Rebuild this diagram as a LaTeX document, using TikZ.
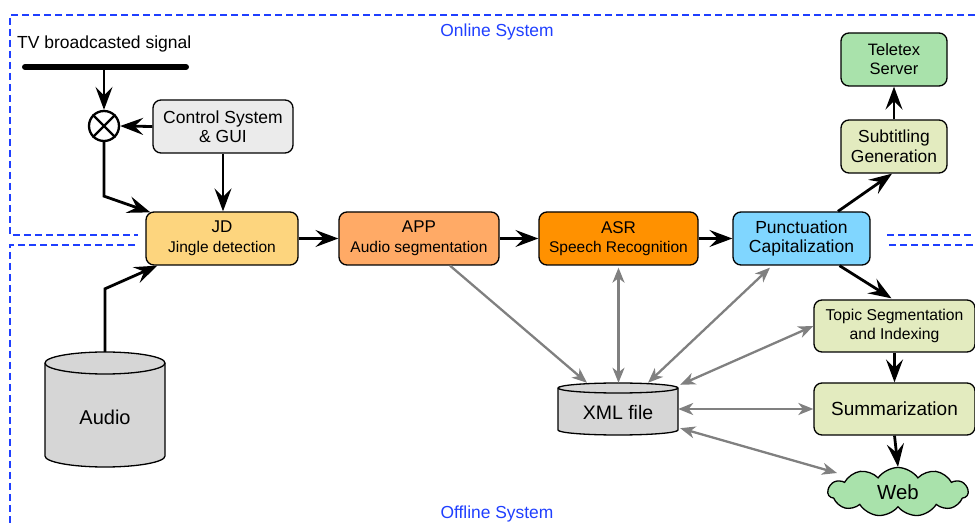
\documentclass[tikz,border=0pt]{standalone}
\usepackage{fontspec}
\setmainfont{Liberation Sans}
\usetikzlibrary{arrows.meta,shapes.symbols,calc}
\definecolor{jdcol}{HTML}{FDD57E}
\definecolor{appcol}{HTML}{FFAA66}
\definecolor{asrcol}{HTML}{FF9100}
\definecolor{puncol}{HTML}{80D6FF}
\definecolor{olivecol}{HTML}{E3EBBF}
\definecolor{greencol}{HTML}{A9E2AB}
\definecolor{ctrlcol}{HTML}{EBEBEB}
\definecolor{cylcol}{HTML}{D6D6D6}
\definecolor{arrgray}{HTML}{808080}
\definecolor{dashblue}{HTML}{1F3FFF}
\newcommand\myfs[2]{\fontsize{#1}{#2}\selectfont}
\begin{document}
\begin{tikzpicture}[x=1pt,y=-1pt,
  boxnode/.style={draw=black, line width=1.3pt, rounded corners=8pt, align=center, inner sep=0pt},
  blk/.style={draw=black, line width=2.8pt, -{Stealth[length=23pt,width=17pt,inset=8.5pt]}},
  gry/.style={draw=arrgray, line width=2.3pt, -{Stealth[length=15pt,width=12pt,inset=4.5pt]}},
  gry2/.style={draw=arrgray, line width=2.3pt, {Stealth[length=15pt,width=12pt,inset=4.5pt]}-{Stealth[length=15pt,width=12pt,inset=4.5pt]}},
  dashline/.style={draw=dashblue, line width=1.3pt, dash pattern=on 7pt off 4pt},
  bluetext/.style={text=dashblue, font=\myfs{17.4}{20}, inner sep=0pt},
  cylfill/.style={draw=black, line width=1.3pt, fill=cylcol},
]
\useasboundingbox (0,0) rectangle (975,526);

% system boundaries
\draw[dashline] (975,15) -- (10,15) -- (10,235) -- (138,235);
\draw[dashline] (887,235) -- (975,235);
\draw[dashline] (135,245) -- (10,245) -- (10,526);
\draw[dashline] (889,245) -- (975,245);
\node[bluetext] (online) at (497,32) {Online System};
\node[bluetext] (offline) at (497,514) {Offline System};

% TV signal
\node[anchor=west, inner sep=0pt, font=\myfs{17.5}{20}] (tvlabel) at (17,44) {TV broadcasted signal};
\draw[line width=6pt, line cap=round] (25,67) -- (186,67);
\coordinate (tap) at (104,67);

% mixer
\node[circle, draw, line width=2.3pt, minimum size=30pt, inner sep=0pt, fill=white] (mix) at (104,126) {};
\draw[line width=2.3pt] (mix.north west) -- (mix.south east) (mix.north east) -- (mix.south west);

% boxes
\node[boxnode, fill=ctrlcol, minimum width=140pt, minimum height=53pt, font=\myfs{17.5}{19.5}] (ctrl) at (223,126.5) {Control System\\\& GUI};
\node[boxnode, fill=jdcol, minimum width=152pt, minimum height=53pt, font=\myfs{17}{19.5}] (jd) at (222,238.5) {JD\\\myfs{15.5}{19.5}Jingle detection};
\node[boxnode, fill=appcol, minimum width=160pt, minimum height=53pt, font=\myfs{17}{19.5}] (app) at (419,238.5) {APP\\\myfs{15.5}{19.5}Audio segmentation};
\node[boxnode, fill=asrcol, minimum width=159pt, minimum height=53pt, font=\myfs{17}{19.5}] (asr) at (618.5,238.5) {ASR\\\myfs{15.5}{19.5}Speech Recognition};
\node[boxnode, fill=puncol, minimum width=137pt, minimum height=53pt, font=\myfs{17.5}{19.5}] (punct) at (801.5,238.5) {Punctuation\\Capitalization};
\node[boxnode, fill=olivecol, minimum width=106pt, minimum height=53pt, font=\myfs{17.4}{19.5}] (subt) at (894,146.5) {Subtitling\\Generation};
\node[boxnode, fill=greencol, minimum width=106pt, minimum height=53pt, font=\myfs{16.5}{19}] (teletex) at (894,59.5) {Teletex\\Server};
\node[boxnode, fill=olivecol, minimum width=161pt, minimum height=52pt, font=\myfs{15.7}{19}] (topic) at (894.5,326) {Topic Segmentation\\and Indexing};
\node[boxnode, fill=olivecol, minimum width=161pt, minimum height=52pt, font=\myfs{19}{22}] (summ) at (894.5,409) {Summarization};
\node[cloud, cloud puffs=11, cloud puff arc=110, aspect=2.9, draw=black, line width=1.3pt, fill=greencol, minimum width=140pt, minimum height=49pt, inner sep=0pt, font=\myfs{20.4}{23}] (web) at (898,492) {Web};

% cylinders
\draw[cylfill] (45,363) -- (45,456) arc[start angle=180, end angle=360, x radius=60pt, y radius=11pt] -- (165,363) arc[start angle=0, end angle=180, x radius=60pt, y radius=11pt] -- cycle;
\draw[draw=black, line width=1.3pt] (45,363) arc[start angle=180, end angle=360, x radius=60pt, y radius=11pt];
\node[minimum width=120pt, minimum height=115pt, inner sep=0pt, text height=31.4pt, text depth=2pt, font=\myfs{20}{23}] (audio) at (105,409.5) {Audio};

\draw[cylfill] (558,388) -- (558,430) arc[start angle=180, end angle=360, x radius=60pt, y radius=5pt] -- (678,388) arc[start angle=0, end angle=180, x radius=60pt, y radius=5pt] -- cycle;
\draw[draw=black, line width=1.3pt] (558,388) arc[start angle=180, end angle=360, x radius=60pt, y radius=5pt];
\node[minimum width=120pt, minimum height=52pt, inner sep=0pt, text height=24pt, text depth=2pt, font=\myfs{19.5}{22}] (xml) at (618,409) {XML file};

% black connectors
\draw[blk] (tap) -- (mix.north);
\draw[blk] (ctrl.west) -- (mix.east);
\draw[blk] (ctrl.south) -- (ctrl.south |- jd.north);
\draw[blk] (mix.south) -- ($(mix.south)+(0,54)$) -- ($(jd.north west)+(5,1)$);
\draw[blk] (audio.north) -- ($(audio.north)+(0,-63)$) -- ($(jd.south west)+(12,0)$);
\draw[blk] (jd.east) -- (app.west);
\draw[blk] (app.east) -- (asr.west);
\draw[blk] (asr.east) -- (punct.west);
\draw[blk] ($(punct.north)+(36.5,0)$) -- ($(subt.south)+(-2,0)$);
\draw[blk] (subt.north) -- (teletex.south);
\draw[blk] ($(punct.south)+(38,0)$) -- ($(topic.north)+(-3,-1)$);
\draw[blk] (topic.south) -- (summ.north);
\draw[blk] (summ.south) -- (web.north);

% gray connectors
\draw[gry] ($(app.south)+(31,0)$) -- ($(xml.north)+(-31,0)$);
\draw[gry2] ($(asr.south)+(0,2)$) -- (asr.south |- xml.north);
\draw[gry2] ($(punct.south)+(-31.5,2)$) -- ($(xml.north)+(30,0)$);
\draw[gry2] (topic.west) -- ($(xml.north east)+(2,2)$);
\draw[gry2] (xml.east) -- (summ.west);
\draw[gry2] ($(xml.south east)+(2,-7)$) -- ($(web.center)+(-61,-19)$);
\end{tikzpicture}
\end{document}
